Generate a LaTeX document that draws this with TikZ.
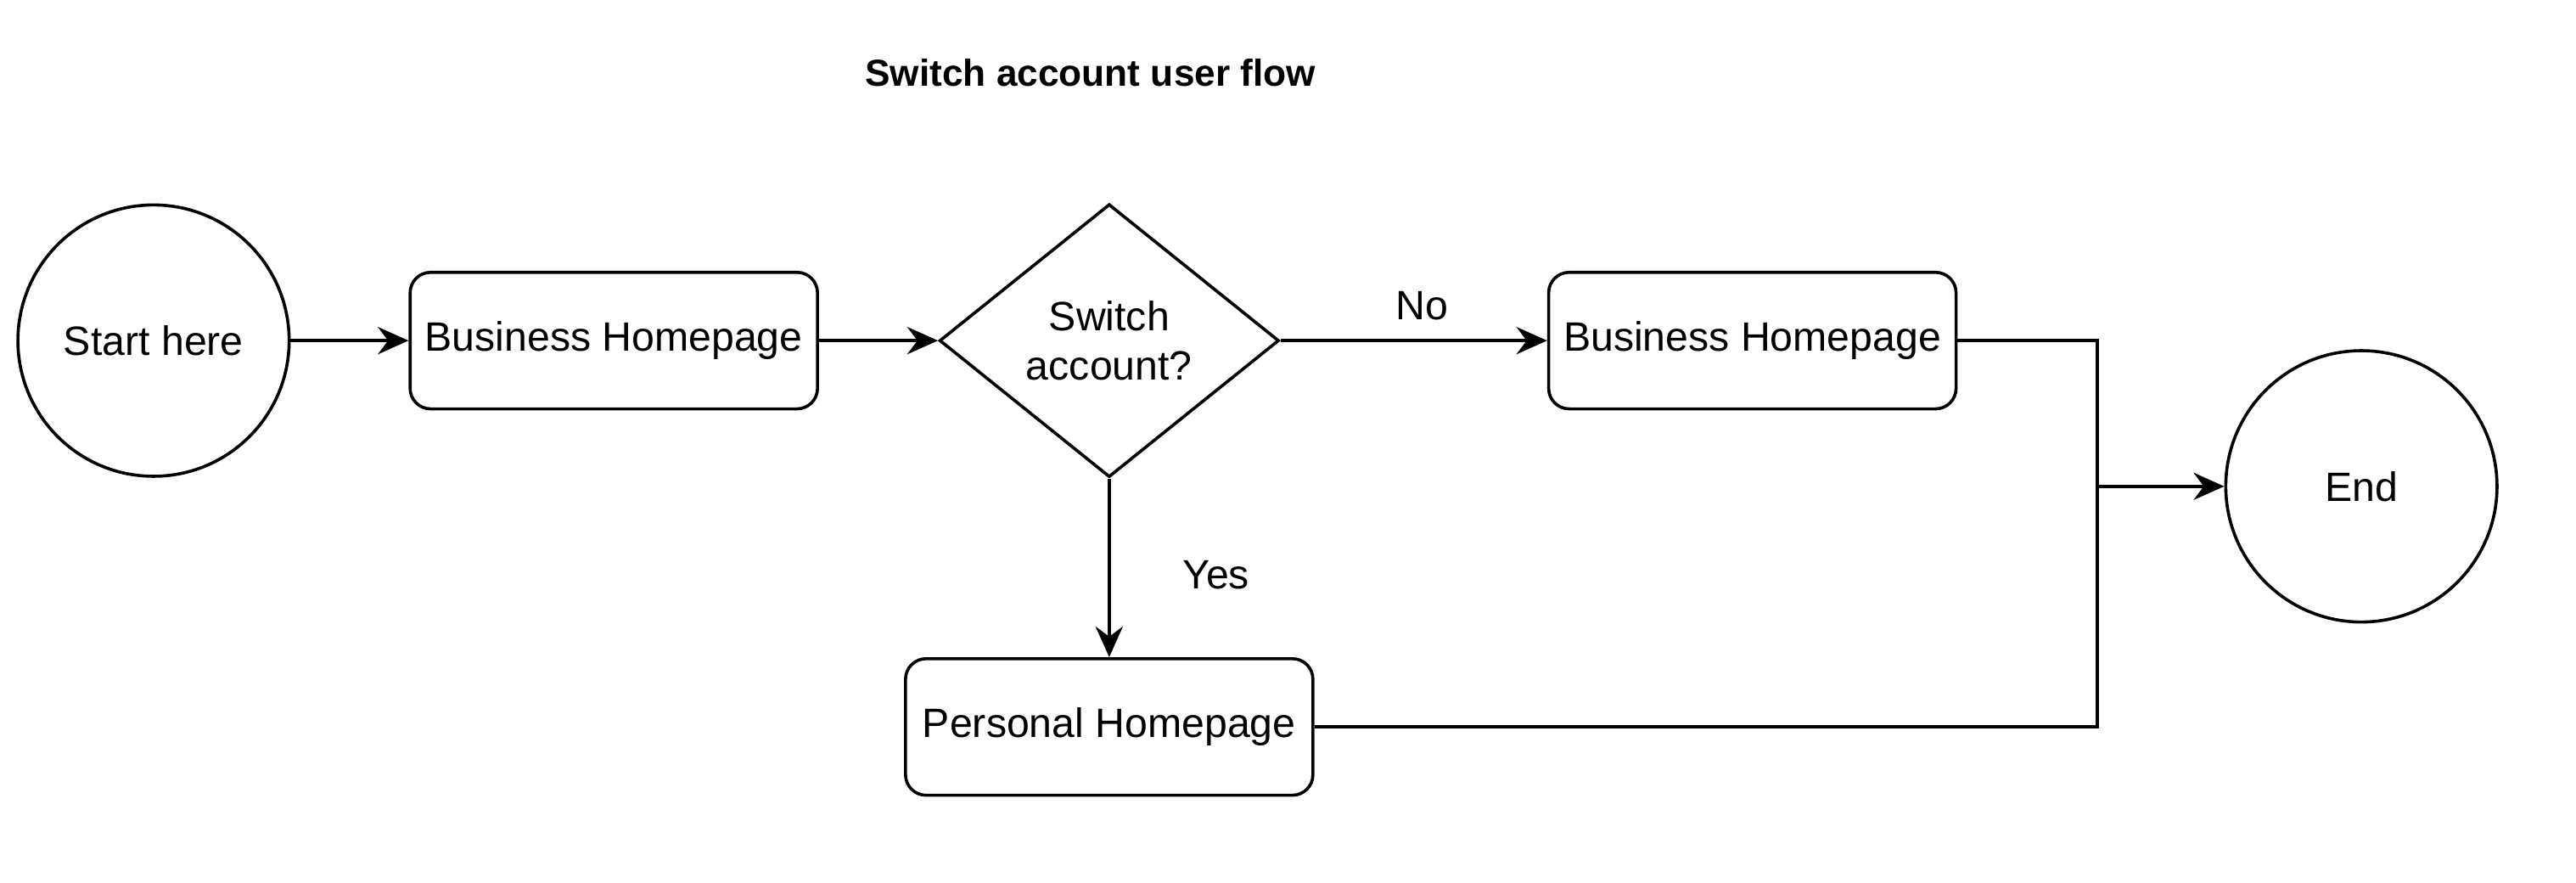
\documentclass[tikz,border=0pt]{standalone}
\usepackage{fontspec}
\setmainfont{Liberation Sans}
\usepackage{tikz}
\usetikzlibrary{positioning}
\usetikzlibrary{shapes.geometric}
\usetikzlibrary{arrows.meta}

\begin{document}
\begin{tikzpicture}[x=1pt, y=1pt, line width=0.9pt,
        font=\fontsize{12pt}{14.4pt}\selectfont,
        terminal/.style={shape=circle, draw=black, minimum size=79.5pt, inner sep=0pt},
        page/.style={shape=rectangle, rounded corners=6pt, draw=black, minimum width=119.4pt, minimum height=40pt, inner sep=0pt},
        decision/.style={shape=diamond, draw=black, minimum width=99.5pt, minimum height=80pt, inner sep=0pt, align=center},
        flow/.style={-{Stealth[length=9pt, width=8pt, inset=3pt]}}]
        \useasboundingbox (0,0) rectangle (755,-258.5);

        % title
        \node (title) at (319.6,-21.4) {\fontsize{11pt}{13pt}\selectfont\bfseries Switch account user flow};

        % states
        \node (start) at (45,-99.8) [terminal] {Start here};
        \node (bizA) at (179.9,-99.8) [page] {Business Homepage};
        \node (ask) at (325.1,-99.8) [decision] {Switch\\account?};
        \node (bizB) at (513.6,-99.8) [page] {Business Homepage};
        \node (personal) at (325.1,-213) [page] {Personal Homepage};
        \node (end) at (692.1,-142.5) [terminal] {End};

        % junction
        \coordinate (merge) at (614.7,-142.5);

        % connections
        \draw[flow] (start) -- (bizA);
        \draw[flow] (bizA) -- (ask);
        \draw[flow] (ask) -- (bizB);
        \draw[flow] (ask) -- (personal);
        \draw[-] (bizB.east) -| (merge);
        \draw[-] (personal.east) -| (merge);
        \draw[flow] (merge) -- (end);

        % labels
        \node (no) at (416.8,-89.5) {No};
        \node (yes) at (356.4,-168.4) {Yes};
    \end{tikzpicture}
\end{document}
